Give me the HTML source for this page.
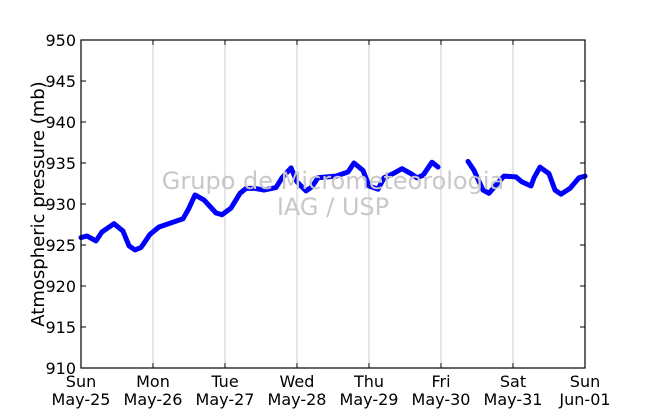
<!DOCTYPE html>
<html><head><meta charset="utf-8"><style>
body{margin:0;background:#fff;font-family:"Liberation Sans","DejaVu Sans",sans-serif}
svg text{font-family:"DejaVu Sans","Liberation Sans",sans-serif}
</style></head><body>
<svg id="c" width="650" height="409">
<rect x="0" y="0" width="650" height="409" fill="#fff"/>
<g id="grid"></g>
<g id="series"></g>
<rect x="81" y="40" width="504" height="328" fill="none" stroke="#000" stroke-width="1.2"/>
<g id="axes"></g>
<text x="333" y="189" font-size="24" fill="#c8c8c8" text-anchor="middle">Grupo de Micrometeorologia</text>
<text x="333" y="215" font-size="24" fill="#c8c8c8" text-anchor="middle">IAG / USP</text>
<text transform="translate(44,204) rotate(-90)" font-size="18" text-anchor="middle">Atmospheric pressure (mb)</text>
</svg>
<script>
const hours=[0,2,5,7,11,14,16,18,20,23,26,30,34,36,38,41,45,47,50,53,55,58,61,65,67,70,72,75,77,79,82,85,89,91,94,96,99,101,104,107,110,112,114,117,119,null,129,131,134,136,139,141,145,147,150,151,153,156,158,160,163,166,168];
const values=[925.9,926.1,925.5,926.6,927.6,926.7,924.9,924.4,924.7,926.3,927.2,927.7,928.2,929.5,931.1,930.5,928.9,928.7,929.5,931.3,931.9,931.9,931.7,932.0,933.2,934.4,932.7,931.6,932.1,933.2,933.3,933.4,933.9,935.0,934.1,932.2,931.8,933.2,933.7,934.3,933.7,933.2,933.5,935.1,934.5,null,935.2,934.1,931.7,931.3,932.6,933.4,933.3,932.7,932.2,933.2,934.5,933.7,931.7,931.2,931.9,933.2,933.4];
const yTicks=[910,915,920,925,930,935,940,945,950];
const dayNames=["Sun","Mon","Tue","Wed","Thu","Fri","Sat","Sun"];
const dayDates=["May-25","May-26","May-27","May-28","May-29","May-30","May-31","Jun-01"];
const NS="http://www.w3.org/2000/svg";
const X=h=>81+h*3, Y=v=>40+(950-v)*8.2;
function mk(t,a,p){const e=document.createElementNS(NS,t);for(const k in a)e.setAttribute(k,a[k]);p.appendChild(e);return e;}
const grid=document.getElementById('grid'),axes=document.getElementById('axes'),ser=document.getElementById('series');
dayNames.forEach((d,i)=>{
 const x=X(i*24);
 if(i>0&&i<7){const g=mk('line',{x1:x,x2:x,y1:40,y2:368,stroke:'#ccc','stroke-width':1},grid);
 
 }
 const t1=mk('line',{x1:x,x2:x,y1:368,y2:363,stroke:'#000'},axes);
 
 
 const t2=mk('line',{x1:x,x2:x,y1:40,y2:45,stroke:'#000'},axes);
 
 
 const l=mk('text',{x:x,y:387,'font-size':16,'text-anchor':'middle'},axes);l.textContent=d;
 
 
 const l2=mk('text',{x:x,y:405,'font-size':16,'text-anchor':'middle'},axes);l2.textContent=dayDates[i];
 
 
});
yTicks.forEach(v=>{
 const y=Y(v);
 const t=mk('line',{x1:81,x2:86,y1:y,y2:y,stroke:'#000'},axes);
 
 
 const t2=mk('line',{x1:585,x2:580,y1:y,y2:y,stroke:'#000'},axes);
 
 
 const l=mk('text',{x:76,y:y+6,'font-size':16,'text-anchor':'end'},axes);l.textContent=v;
 
 
});
let segs=[],cur=[];
hours.forEach((h,i)=>{if(h===null||values[i]===null){if(cur.length)segs.push(cur);cur=[];}else cur.push(X(h).toFixed(1)+','+Y(values[i]).toFixed(1));});
if(cur.length)segs.push(cur);
segs.forEach(s=>{
 const p=mk('polyline',{points:s.join(' '),fill:'none',stroke:'#0000ff','stroke-width':5,'stroke-linejoin':'round','stroke-linecap':'round'},ser);
 
 
});
</script>
</body></html>
